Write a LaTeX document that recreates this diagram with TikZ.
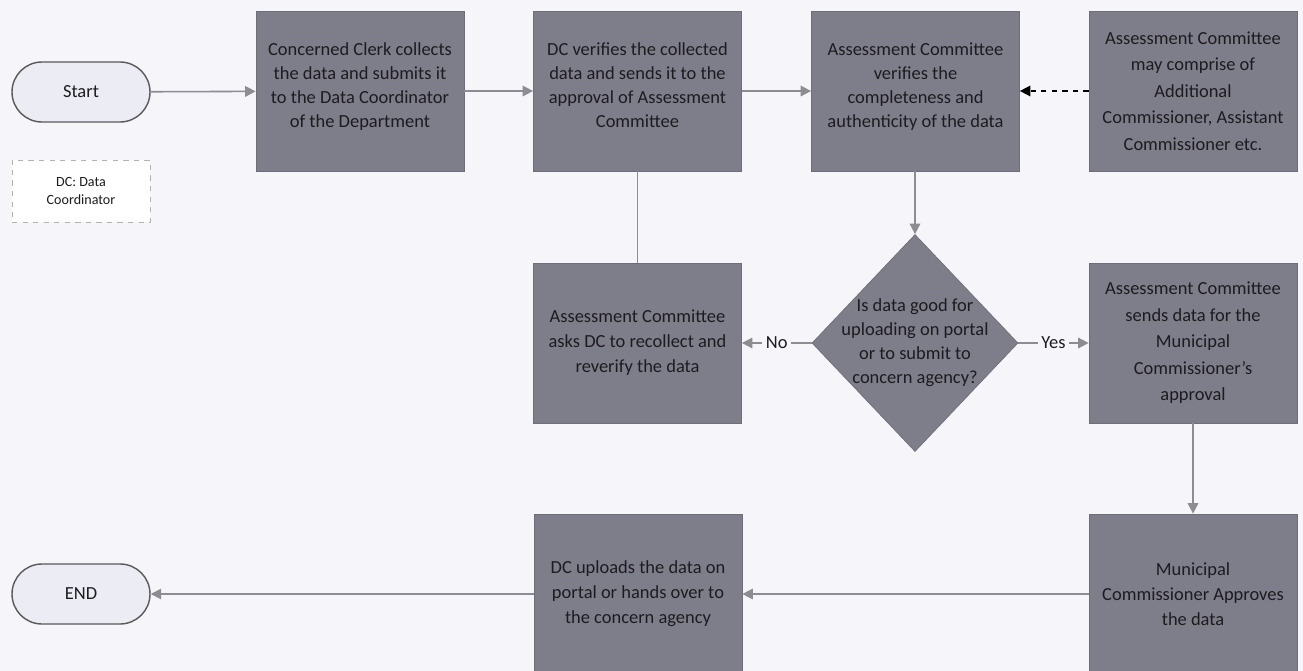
\documentclass[tikz,border=0pt]{standalone}
\usepackage{fontspec}
\setmainfont{Carlito}
\usetikzlibrary{arrows.meta,shapes.geometric}
\definecolor{bg}{RGB}{245,245,250}
\definecolor{boxfill}{RGB}{126,125,138}
\definecolor{boxline}{RGB}{110,110,120}
\definecolor{termfill}{RGB}{236,236,245}
\definecolor{lineg}{RGB}{140,140,146}
\definecolor{txt}{RGB}{28,28,32}
\tikzset{
  procbox/.style={draw=boxline, fill=boxfill, minimum width=4.16cm, minimum height=3.2cm,
    align=center, text=txt, font=\fontsize{10.5}{13.7}\selectfont, inner sep=0pt},
  loose/.style={font=\fontsize{10.5}{15.1}\selectfont},
  mid/.style={font=\fontsize{10.5}{14.3}\selectfont},
  term/.style={draw=black!65, fill=termfill, rounded corners=0.6cm, minimum width=2.76cm,
    minimum height=1.2cm, text=txt, font=\fontsize{10.5}{13}\selectfont, line width=0.8pt},
  legendbox/.style={draw=black!30, dashed, fill=white, minimum width=2.76cm, minimum height=1.24cm,
    align=center, text=txt, font=\fontsize{8}{10}\selectfont},
  dia/.style={draw=boxline, fill=boxfill, shape=diamond, minimum width=4.12cm, minimum height=4.34cm, inner sep=0pt},
  flow/.style={draw=lineg, line width=0.9pt, -{Triangle[width=6pt,length=6pt]}},
  plain/.style={draw=lineg, line width=0.9pt},
  lbl/.style={fill=bg, text=txt, font=\fontsize{10.5}{13}\selectfont, inner sep=2pt}
}
\begin{document}
\begin{tikzpicture}
\fill[bg] (0,0) rectangle (26.06,-13.42);
\useasboundingbox (0,0) rectangle (26.06,-13.42);

\node[term] (start) at (1.62,-1.84) {Start};
\node[legendbox] (legend) at (1.62,-3.82) {DC: Data\\Coordinator};
\node[term] (end) at (1.62,-11.88) {END};

\node[procbox] (b1) at (7.2,-1.82) {Concerned Clerk collects\\the data and submits it\\to the Data Coordinator\\of the Department\\[-7pt]};
\node[procbox] (b2) at (12.75,-1.82) {DC verifies the collected\\data and sends it to the\\approval of Assessment\\Committee\\[-7pt]};
\node[procbox] (b3) at (18.31,-1.82) {Assessment Committee\\verifies the\\completeness and\\authenticity of the data\\[-7pt]};
\node[procbox, loose] (b4) at (23.86,-1.82) {Assessment Committee\\may comprise of\\Additional\\Commissioner, Assistant\\Commissioner etc.};

\node[dia] (d) at (18.3,-6.86) {};
\node[align=center, text=txt, font=\fontsize{10.5}{13.7}\selectfont] (dt) at (d.center) {Is data good for\\uploading on portal\\or to submit to\\concern agency?};

\node[procbox, mid] (b5) at (12.75,-6.86) {Assessment Committee\\asks DC to recollect and\\reverify the data};
\node[procbox, loose] (b6) at (23.86,-6.86) {Assessment Committee\\sends data for the\\Municipal\\Commissioner's\\approval};
\node[procbox, mid] (b7) at (23.86,-11.88) {Municipal\\Commissioner Approves\\the data};
\node[procbox, mid] (b8) at (12.76,-11.88) {DC uploads the data on\\portal or hands over to\\the concern agency};

\draw[flow] (start) -- (b1);
\draw[flow] (b1) -- (b2);
\draw[flow] (b2) -- (b3);
\draw[dashed, line width=0.9pt, -{Triangle[width=6pt,length=6pt]}] (b4) -- (b3);
\draw[flow] (b3.south -| d.north) -- (d.north);
\draw[plain] (b2) -- (b5);
\draw[flow] (d.west) -- node[lbl] {No} (b5.east);
\draw[flow] (d.east) -- node[lbl] {Yes} (b6.west);
\draw[flow] (b6) -- (b7);
\draw[flow] (b7) -- (b8);
\draw[flow] (b8) -- (end);
\end{tikzpicture}
\end{document}
